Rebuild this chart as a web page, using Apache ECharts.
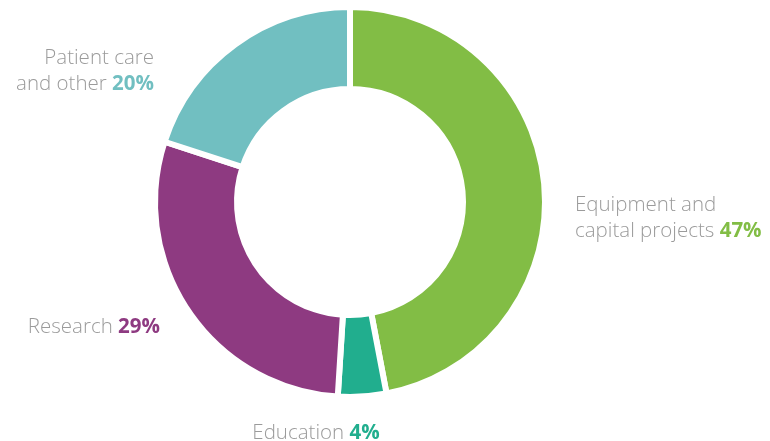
<!DOCTYPE html>
<html>
<head>
<meta charset="utf-8">
<script src="https://cdn.jsdelivr.net/npm/echarts@6/dist/echarts.min.js"></script>
<style>
  html, body { margin: 0; padding: 0; background: #fff; }
  #chart { width: 770px; height: 441px; }
</style>
</head>
<body>
<div id="chart"></div>
<script>
// data
const categories = ['Equipment and\ncapital projects', 'Education', 'Research', 'Patient care\nand other'];
const shares = [47, 4, 29, 20];
const colors = ['#82bd45', '#21ae8e', '#8e3a81', '#71bfc1'];

// where each label sits (x, y, align)
const labelPos = [
  { x: 575, y: 218, align: 'left' },
  { x: 316, y: 433, align: 'center' },
  { x: 160, y: 327, align: 'right' },
  { x: 154, y: 71, align: 'right' }
];

const FS = 20.5;
const rich = { n: { color: '#9b9b9b', fontSize: FS, fontWeight: 300, lineHeight: 26, fontFamily: 'Open Sans' } };
colors.forEach((c, i) => {
  rich['p' + i] = { color: c, fontSize: FS, fontWeight: 'bold', lineHeight: 26, fontFamily: 'Open Sans' };
});

const chart = echarts.init(document.getElementById('chart'));
chart.setOption({
  animation: false,
  series: [{
    type: 'pie',
    center: [350, 202],
    radius: [113, 195],
    startAngle: 90,
    clockwise: true,
    data: categories.map((name, i) => ({ name, value: shares[i], itemStyle: { color: colors[i] } })),
    itemStyle: { borderColor: '#fff', borderWidth: 6 },
    labelLine: { show: false },
    label: {
      show: true,
      position: 'outside',
      alignTo: 'none',
      overflow: 'none',
      rich,
      formatter: (p) => {
        const lines = p.name.split('\n').map(s => '{n|' + s + '}');
        lines[lines.length - 1] += '{n| }{p' + p.dataIndex + '|' + p.value + '%}';
        return lines.join('\n');
      }
    },
    labelLayout: (params) => {
      const pos = labelPos[params.dataIndex];
      return { x: pos.x, y: pos.y, align: pos.align, verticalAlign: 'middle' };
    }
  }]
});
</script>
</body>
</html>
